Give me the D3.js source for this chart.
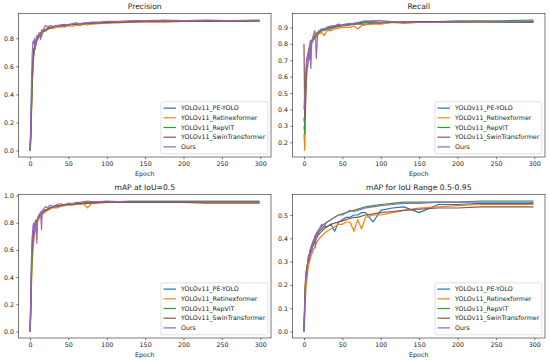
<!DOCTYPE html>
<html>
<head>
<meta charset="utf-8">
<script src="https://cdn.jsdelivr.net/npm/d3@7"></script>
<style>
  body { margin: 0; background: #fff; }
  svg { font-family: "DejaVu Sans", sans-serif; }
</style>
</head>
<body>
<svg id="chart" width="550" height="361"></svg>
<script>
const epochs = [0,1,2,3,4,5,6,7,8,9,10,12,14,15,16,18,20,23,26,30,35,40,45,50,55,60,65,70,75,80,90,100,115,130,150,175,200,230,260,299];

const seriesNames = ["YOLOv11_PE-YOLO", "YOLOv11_Retinexformer", "YOLOv11_RepViT", "YOLOv11_SwinTransformer", "Ours"];
const seriesColors = ["#1f77b4", "#ff7f0e", "#2ca02c", "#8c564b", "#9467bd"];

// Precision
const precPE      = [0,0.12,0.35,0.55,0.66,0.72,0.74,0.77,0.76,0.79,0.80,0.82,0.83,0.81,0.84,0.85,0.86,0.87,0.87,0.88,0.885,0.89,0.88,0.895,0.90,0.90,0.905,0.90,0.91,0.905,0.91,0.915,0.915,0.92,0.92,0.92,0.92,0.925,0.925,0.925];
const precRetinex = [0,0.05,0.25,0.45,0.60,0.68,0.72,0.74,0.76,0.78,0.79,0.81,0.82,0.83,0.83,0.85,0.85,0.86,0.87,0.87,0.88,0.88,0.885,0.89,0.885,0.895,0.89,0.90,0.895,0.90,0.905,0.91,0.91,0.915,0.915,0.915,0.92,0.92,0.92,0.92];
const precRepViT  = [0,0.08,0.30,0.50,0.63,0.69,0.73,0.76,0.78,0.79,0.80,0.82,0.84,0.84,0.85,0.86,0.86,0.87,0.88,0.88,0.89,0.89,0.89,0.90,0.90,0.90,0.905,0.905,0.91,0.91,0.91,0.915,0.915,0.92,0.92,0.92,0.92,0.92,0.92,0.925];
const precSwin    = [0,0.10,0.32,0.52,0.64,0.70,0.73,0.75,0.77,0.79,0.81,0.82,0.83,0.84,0.85,0.85,0.86,0.87,0.87,0.88,0.89,0.89,0.89,0.895,0.90,0.90,0.90,0.905,0.905,0.91,0.91,0.91,0.915,0.915,0.92,0.92,0.92,0.92,0.92,0.925];
const precOurs    = [0,0.20,0.50,0.70,0.78,0.76,0.80,0.72,0.79,0.82,0.81,0.84,0.79,0.86,0.85,0.87,0.89,0.88,0.89,0.885,0.89,0.895,0.90,0.89,0.905,0.91,0.905,0.91,0.91,0.915,0.915,0.92,0.92,0.925,0.925,0.93,0.925,0.93,0.925,0.93];

// Recall
const recPE       = [0.35,0.30,0.50,0.60,0.68,0.72,0.74,0.76,0.78,0.80,0.81,0.83,0.84,0.85,0.85,0.86,0.87,0.88,0.88,0.89,0.89,0.90,0.905,0.91,0.91,0.915,0.92,0.92,0.92,0.92,0.925,0.925,0.93,0.93,0.93,0.93,0.93,0.93,0.93,0.93];
const recRetinex  = [0.25,0.15,0.40,0.55,0.63,0.70,0.72,0.75,0.77,0.78,0.80,0.82,0.83,0.84,0.84,0.86,0.86,0.87,0.85,0.88,0.88,0.89,0.895,0.90,0.90,0.90,0.91,0.89,0.91,0.915,0.92,0.92,0.93,0.925,0.93,0.93,0.935,0.93,0.935,0.935];
const recRepViT   = [0.30,0.25,0.45,0.60,0.68,0.72,0.75,0.77,0.78,0.80,0.81,0.83,0.84,0.85,0.86,0.87,0.87,0.88,0.89,0.89,0.90,0.905,0.91,0.91,0.915,0.92,0.92,0.925,0.925,0.93,0.93,0.93,0.93,0.935,0.935,0.935,0.94,0.94,0.94,0.945];
const recSwin     = [0.80,0.35,0.50,0.62,0.70,0.73,0.76,0.78,0.80,0.81,0.82,0.84,0.85,0.86,0.86,0.87,0.88,0.89,0.89,0.90,0.90,0.91,0.91,0.915,0.92,0.92,0.925,0.93,0.93,0.935,0.94,0.94,0.935,0.935,0.935,0.935,0.935,0.935,0.935,0.935];
const recOurs     = [0.40,0.50,0.60,0.68,0.72,0.66,0.75,0.70,0.82,0.65,0.80,0.85,0.88,0.86,0.71,0.87,0.88,0.89,0.88,0.90,0.91,0.91,0.92,0.91,0.92,0.925,0.92,0.93,0.935,0.94,0.935,0.93,0.935,0.935,0.93,0.93,0.935,0.935,0.935,0.94];

// mAP at IoU=0.5
const map50PE      = [0,0.15,0.45,0.60,0.68,0.73,0.76,0.78,0.80,0.81,0.82,0.85,0.86,0.87,0.87,0.88,0.89,0.90,0.91,0.915,0.92,0.925,0.93,0.935,0.935,0.94,0.94,0.94,0.945,0.945,0.95,0.95,0.95,0.955,0.955,0.955,0.955,0.955,0.955,0.955];
const map50Retinex = [0,0.10,0.35,0.52,0.60,0.66,0.72,0.75,0.78,0.80,0.81,0.83,0.85,0.86,0.86,0.87,0.88,0.89,0.90,0.91,0.91,0.92,0.925,0.93,0.93,0.935,0.935,0.94,0.91,0.94,0.945,0.95,0.95,0.95,0.95,0.95,0.95,0.95,0.95,0.95];
const map50RepViT  = [0,0.12,0.40,0.58,0.67,0.72,0.75,0.78,0.80,0.82,0.83,0.85,0.86,0.87,0.88,0.89,0.895,0.90,0.91,0.92,0.925,0.93,0.935,0.935,0.94,0.94,0.945,0.945,0.95,0.95,0.95,0.955,0.955,0.955,0.955,0.955,0.955,0.955,0.955,0.955];
const map50Swin    = [0,0.20,0.50,0.68,0.70,0.74,0.77,0.79,0.81,0.82,0.83,0.85,0.86,0.87,0.88,0.885,0.89,0.90,0.91,0.915,0.92,0.925,0.93,0.935,0.935,0.94,0.94,0.945,0.945,0.945,0.95,0.95,0.95,0.95,0.95,0.95,0.95,0.945,0.945,0.945];
const map50Ours    = [0,0.25,0.55,0.70,0.78,0.80,0.72,0.82,0.78,0.65,0.84,0.86,0.88,0.75,0.89,0.90,0.92,0.91,0.93,0.92,0.935,0.94,0.93,0.945,0.94,0.95,0.95,0.955,0.96,0.955,0.955,0.96,0.955,0.96,0.96,0.96,0.96,0.96,0.96,0.96];

// mAP for IoU 0.5-0.95
const mapPE      = [0,0.10,0.20,0.25,0.27,0.29,0.31,0.32,0.33,0.34,0.35,0.37,0.38,0.39,0.40,0.41,0.42,0.43,0.44,0.45,0.46,0.43,0.47,0.48,0.49,0.49,0.50,0.50,0.51,0.51,0.47,0.52,0.53,0.535,0.51,0.545,0.545,0.55,0.55,0.55];
const mapRetinex = [0,0.05,0.15,0.20,0.23,0.26,0.28,0.30,0.31,0.32,0.33,0.35,0.36,0.37,0.38,0.39,0.40,0.41,0.42,0.43,0.44,0.45,0.46,0.46,0.47,0.47,0.43,0.48,0.44,0.49,0.50,0.50,0.51,0.52,0.53,0.535,0.54,0.545,0.545,0.545];
const mapRepViT  = [0,0.12,0.22,0.26,0.28,0.30,0.32,0.33,0.35,0.36,0.37,0.39,0.40,0.41,0.42,0.43,0.44,0.45,0.46,0.47,0.48,0.49,0.50,0.505,0.51,0.515,0.52,0.525,0.53,0.535,0.54,0.545,0.55,0.555,0.555,0.555,0.555,0.56,0.56,0.56];
const mapSwin    = [0,0.15,0.22,0.25,0.28,0.30,0.31,0.33,0.34,0.35,0.36,0.38,0.39,0.40,0.41,0.42,0.43,0.44,0.45,0.45,0.46,0.465,0.47,0.475,0.48,0.485,0.49,0.49,0.495,0.50,0.505,0.51,0.515,0.52,0.525,0.53,0.53,0.535,0.535,0.535];
const mapOurs    = [0,0.12,0.20,0.26,0.24,0.31,0.33,0.30,0.35,0.36,0.34,0.38,0.41,0.36,0.42,0.43,0.44,0.46,0.45,0.47,0.48,0.49,0.50,0.50,0.51,0.52,0.515,0.52,0.525,0.53,0.535,0.54,0.545,0.55,0.55,0.555,0.555,0.555,0.555,0.555];

const xTicks = [0, 50, 100, 150, 200, 250, 300];

const panels = [
  { title: "Precision", series: [precPE, precRetinex, precRepViT, precSwin, precOurs], yTicks: [0.0, 0.2, 0.4, 0.6, 0.8], left: 18.5, top: 13.5 },
  { title: "Recall", series: [recPE, recRetinex, recRepViT, recSwin, recOurs], yTicks: [0.2, 0.3, 0.4, 0.5, 0.6, 0.7, 0.8, 0.9], left: 292.5, top: 13.5 },
  { title: "mAP at IoU=0.5", series: [map50PE, map50Retinex, map50RepViT, map50Swin, map50Ours], yTicks: [0.0, 0.2, 0.4, 0.6, 0.8, 1.0], left: 18.5, top: 194.5 },
  { title: "mAP for IoU Range 0.5-0.95", series: [mapPE, mapRetinex, mapRepViT, mapSwin, mapOurs], yTicks: [0.0, 0.1, 0.2, 0.3, 0.4, 0.5], left: 292.5, top: 194.5 }
];

const plotW = 252.5, plotH = 143.5;
const fs = 6.3, titleFs = 7.6;

const svg = d3.select("#chart");

panels.forEach(p => {
  const g = svg.append("g").attr("transform", "translate(" + p.left + "," + p.top + ")");

  // matplotlib-like 5% margins
  const xMin = d3.min(epochs), xMax = d3.max(epochs);
  const xPad = (xMax - xMin) * 0.05;
  const x = d3.scaleLinear().domain([xMin - xPad, xMax + xPad]).range([0, plotW]);

  const all = p.series.flat();
  const yMin = d3.min(all), yMax = d3.max(all);
  const yPad = (yMax - yMin) * 0.05;
  const y = d3.scaleLinear().domain([yMin - yPad, yMax + yPad]).range([plotH, 0]);

  const line = d3.line().x((d, i) => x(epochs[i])).y(d => y(d));

  p.series.forEach((s, i) => {
    g.append("path")
      .datum(s)
      .attr("d", line)
      .attr("fill", "none")
      .attr("stroke", seriesColors[i])
      .attr("stroke-width", 1.2)
      .attr("stroke-linejoin", "round");
  });

  // frame
  g.append("rect")
    .attr("width", plotW).attr("height", plotH)
    .attr("fill", "none").attr("stroke", "#222").attr("stroke-width", 0.6);

  const xAxis = g.append("g")
    .attr("transform", "translate(0," + plotH + ")")
    .call(d3.axisBottom(x).tickValues(xTicks).tickSize(2.2).tickPadding(2.2).tickFormat(d3.format("d")));
  const yAxis = g.append("g")
    .call(d3.axisLeft(y).tickValues(p.yTicks).tickSize(2.2).tickPadding(2.2).tickFormat(d3.format(".1f")));
  [xAxis, yAxis].forEach(a => {
    a.select(".domain").remove();
    a.selectAll("line").attr("stroke", "#222").attr("stroke-width", 0.6);
    a.selectAll("text").attr("fill", "#222").style("font-size", fs + "px").style("font-family", "DejaVu Sans");
  });

  g.append("text")
    .attr("x", plotW / 2).attr("y", -4.5)
    .attr("text-anchor", "middle")
    .style("font-size", titleFs + "px")
    .attr("fill", "#222")
    .text(p.title);

  g.append("text")
    .attr("x", plotW / 2).attr("y", plotH + 18.5)
    .attr("text-anchor", "middle")
    .style("font-size", fs + "px")
    .attr("fill", "#222")
    .text("Epoch");

  // legend, lower right
  const lg = g.append("g");
  const rowH = 9.7;
  const labels = seriesNames.map((name, i) => lg.append("text")
    .attr("y", 0)
    .style("font-size", fs + "px")
    .attr("fill", "#222")
    .attr("dy", "0.35em")
    .text(name));
  const textW = d3.max(labels, t => t.node().getComputedTextLength());
  const boxR = plotW - 3.2, boxB = plotH - 3.2;
  const boxW = 2.5 + 12.6 + 5 + textW + 2.5;
  const boxH = rowH * seriesNames.length + 3.5;
  const boxL = boxR - boxW, boxT = boxB - boxH;
  lg.insert("rect", "text")
    .attr("x", boxL).attr("y", boxT)
    .attr("width", boxW).attr("height", boxH)
    .attr("rx", 1.5)
    .attr("fill", "#fff").attr("fill-opacity", 0.8)
    .attr("stroke", "#ccc").attr("stroke-width", 0.6);
  seriesNames.forEach((name, i) => {
    const cy = boxT + 6.3 + i * rowH;
    lg.append("line")
      .attr("x1", boxL + 2.5).attr("x2", boxL + 15.1)
      .attr("y1", cy).attr("y2", cy)
      .attr("stroke", seriesColors[i]).attr("stroke-width", 1.2);
    labels[i].attr("x", boxL + 20.1).attr("y", cy);
  });
});
</script>
</body>
</html>
